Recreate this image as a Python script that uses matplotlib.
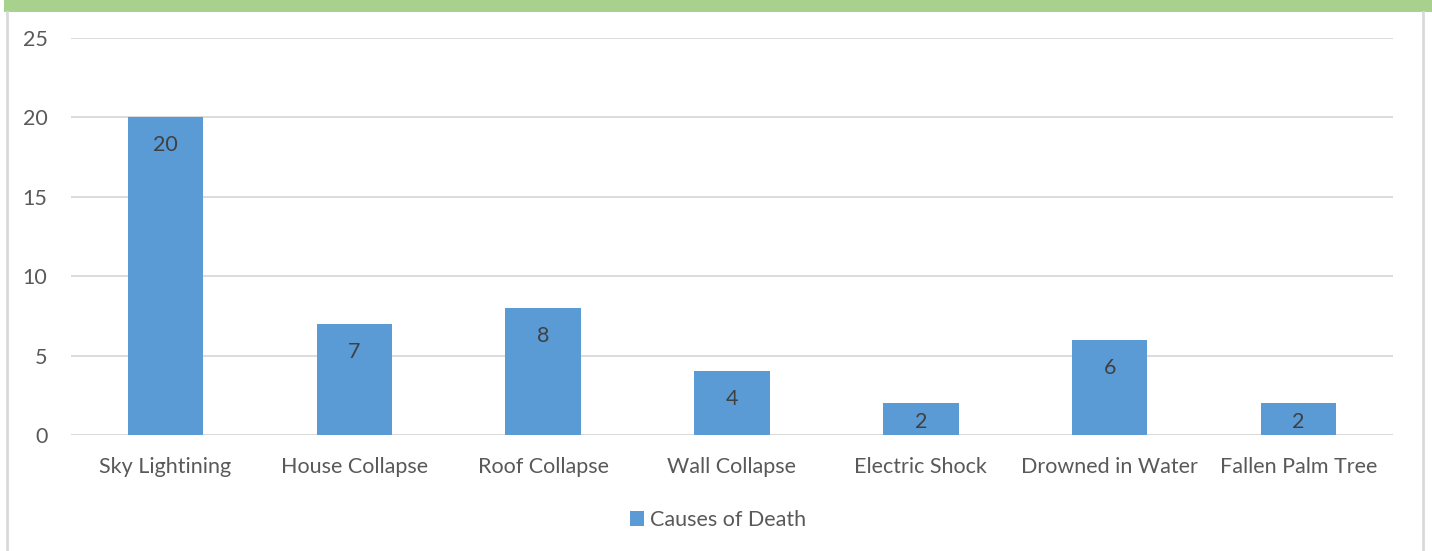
import matplotlib
matplotlib.use("Agg")
import matplotlib.pyplot as plt
from matplotlib.patches import Rectangle
from matplotlib.lines import Line2D

categories = ["Sky Lightining", "House Collapse", "Roof Collapse", "Wall Collapse",
              "Electric Shock", "Drowned in Water", "Fallen Palm Tree"]
values = [20, 7, 8, 4, 2, 6, 2]
series_name = "Causes of Death"
yticks = [0, 5, 10, 15, 20, 25]

plt.rcParams['font.family'] = ['Lato', 'DejaVu Sans']
txt = '#595959'
bar_color = '#5b9bd5'
fs = 15.5

W, H = 1432, 551
fig = plt.figure(figsize=(W/100, H/100), dpi=100)

# decorations
fig.patches.append(Rectangle((4/W, 1-11.5/H), 1-4/W, 11.5/H, transform=fig.transFigure,
                             facecolor='#a9d18e', edgecolor='none'))
fig.lines.append(Line2D([7/W, 7/W], [0, 1-11.5/H], transform=fig.transFigure, color='#d9d9d9', lw=2))
fig.lines.append(Line2D([1423/W, 1423/W], [0, 1-11.5/H], transform=fig.transFigure, color='#d9d9d9', lw=2))

ax_top, ax_bot = 38, 435
ax = fig.add_axes([71/W, 1-ax_bot/H, (1393-71)/W, (ax_bot-ax_top)/H])
x = list(range(len(categories)))
bars = ax.bar(x, values, width=0.40, color=bar_color, zorder=3, label=series_name)
ax.set_xlim(-0.5, len(categories)-0.5)
ax.set_ylim(0, 25)
ax.set_yticks(yticks)
ax.yaxis.grid(True, color='#d9d9d9', lw=1.3, zorder=0)
for s in ax.spines.values():
    s.set_visible(False)
ax.axhline(0, color='#d9d9d9', lw=1.3, zorder=1)
ax.set_xticks(x)
ax.set_xticklabels(categories)
ax.tick_params(axis='both', length=0, labelsize=fs, colors=txt)
ax.tick_params(axis='x', pad=16)
ax.tick_params(axis='y', pad=17)

px_per_unit = (ax_bot - ax_top) / 25
for xi, v in zip(x, values):
    h = v * px_per_unit
    off = min(28, h - 13)
    ax.annotate(str(v), (xi, v), xytext=(0, -off), textcoords='offset pixels',
                ha='center', va='center', fontsize=fs, color='#404040', zorder=4)

leg = fig.legend(handles=[bars], labels=[series_name], loc='center',
                 bbox_to_anchor=(718/W, 1-520/H), frameon=False, fontsize=fs,
                 handlelength=0.65, handleheight=0.65, handletextpad=0.3, labelcolor=txt)

fig.savefig('out.png', dpi=100, facecolor='white')
